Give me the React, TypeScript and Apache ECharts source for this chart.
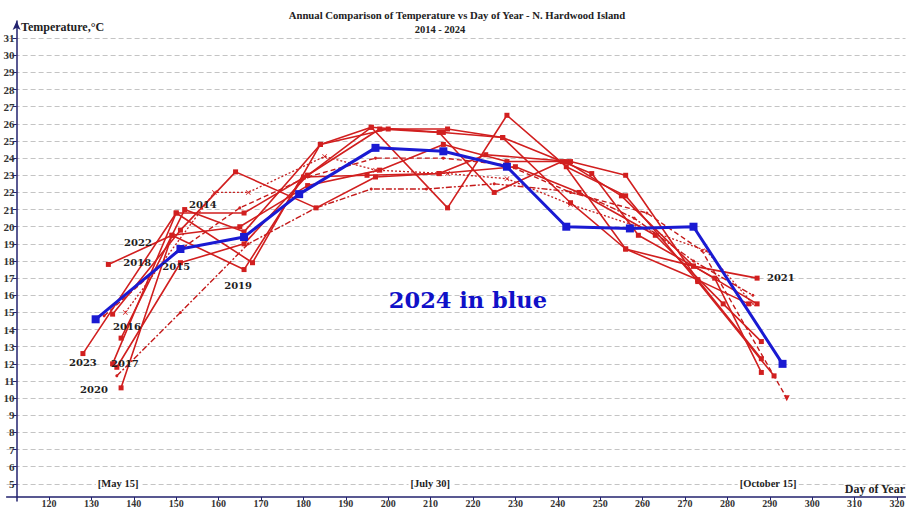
import React, { useEffect, useRef } from 'react';
import * as echarts from 'echarts';

// ---- data (day of year, temperature °C) ----
const s2014 = [[137, 13.5], [152, 21.0], [166, 19.7], [184, 24.8], [200, 25.7], [214, 25.7], [227, 25.2], [243, 21.4], [256, 18.7], [273, 16.9], [288, 12.3]];
const s2015 = [[136, 11.8], [151, 17.9], [166, 19.0], [181, 23.0], [196, 25.8], [214, 21.1], [228, 26.5], [242, 23.5], [256, 21.8], [273, 16.8], [291, 11.3]];
const s2016 = [[133, 14.8], [150, 18.5], [165, 21.1], [181, 22.9], [197, 24.0], [213, 24.0], [228, 23.6], [243, 22.0], [261, 20.8], [274, 18.6], [294, 10.0]];
const s2017 = [[136, 11.3], [151, 15.0], [167, 19.0], [183, 21.1], [196, 22.2], [209, 22.2], [225, 22.5], [245, 22.0], [258, 20.5], [272, 18.0], [286, 16.0]];
const s2018 = [[134, 17.8], [149, 19.5], [165, 20.0], [181, 22.4], [198, 23.3], [213, 24.8], [228, 23.8], [242, 23.8], [255, 21.8], [272, 17.7], [287, 15.5]];
const s2019 = [[138, 15.0], [159, 22.0], [167, 22.0], [185, 24.1], [197, 23.3], [214, 23.1], [228, 22.8], [243, 21.3], [259, 20.0], [275, 18.6], [286, 15.5]];
const s2020 = [[137, 10.6], [149, 19.5], [166, 17.5], [180, 22.9], [195, 23.0], [212, 23.1], [230, 23.5], [245, 22.0], [263, 19.5], [279, 15.5], [288, 13.3]];
const s2021 = [[135, 12.0], [150, 20.8], [166, 20.8], [181, 23.0], [198, 25.7], [212, 25.5], [225, 22.0], [241, 23.8], [256, 18.7], [272, 17.7], [287, 17.0]];
const s2022 = [[135, 14.9], [151, 19.8], [164, 23.2], [183, 21.1], [197, 22.9], [212, 23.1], [223, 24.2], [243, 23.8], [256, 23.0], [273, 16.9], [285, 15.5]];
const s2023 = [[128, 12.6], [150, 20.8], [168, 17.9], [184, 24.8], [196, 25.8], [213, 25.5], [227, 25.2], [248, 23.1], [259, 19.5], [277, 17.0], [288, 11.5]];
const s2024 = [[131, 14.6], [151, 18.7], [166, 19.4], [179, 21.9], [197, 24.6], [213, 24.4], [228, 23.5], [242, 20.0], [257, 19.9], [272, 20.0], [293, 12.0]];

const yearLabels = ['2014', '2022', '2018', '2015', '2019', '2016', '2023', '2017', '2020', '2021'];
const yearLabelPos = [[156.3, 21.3], [141.0, 19.1], [140.8, 17.9], [150.0, 17.7], [164.6, 16.6], [138.4, 14.2], [128.0, 12.1], [137.9, 12.05], [130.6, 10.5], [292.6, 17.05]];

const dateNotes = ['[May 15]', '[July 30]', '[October 15]'];
const dateNotePos = [[136.3, 5.0], [209.9, 5.0], [289.6, 5.05]];

const TITLE = 'Annual Comparison of Temperature vs Day of Year - N. Hardwood Island';
const SUBTITLE = '2014 - 2024';

const RED = '#d11f1f';
const BLUE = '#1a1ad2';
const AXIS = '#22226e';
const SERIF = '"Liberation Serif", "Times New Roman", serif';
const WIDE = '"DejaVu Serif", serif';
const XSYM = 'path://M0 1L1 0L5 4L9 0L10 1L6 5L10 9L9 10L5 6L1 10L0 9L4 5Z';

function redSeries(name: string, data: number[][], style: string) {
  const base: any = {
    name,
    type: 'line',
    data,
    z: 2,
    lineStyle: { color: RED, width: 1.6 },
    itemStyle: { color: RED },
    symbol: 'rect',
    symbolSize: 5,
  };
  if (style === 'dashed') {
    base.lineStyle = { color: '#c41a1a', width: 1.4, type: [5, 3] };
    base.symbol = 'circle';
    base.symbolSize = 3;
    base.data = data.map((d, i) =>
      i === data.length - 1 ? { value: d, symbol: 'triangle', symbolRotate: 180, symbolSize: 6 } : d
    );
  } else if (style === 'dashdot') {
    base.lineStyle = { color: '#c41a1a', width: 1.4, type: [6, 2, 2, 2] };
    base.symbol = 'circle';
    base.symbolSize = 3;
  } else if (style === 'dotted') {
    base.lineStyle = { color: '#c42020', width: 1.3, type: [2, 2] };
    base.symbol = XSYM;
    base.symbolSize = 5;
  }
  return base;
}

const plainLabel = {
  show: true,
  position: 'inside',
  formatter: '{b}',
  textBorderWidth: 0,
  textShadowBlur: 0,
  opacity: 1,
};

export default function App() {
  const ref = useRef<HTMLDivElement>(null);
  useEffect(() => {
    const chart = echarts.init(ref.current!, null, { renderer: 'svg' });
    const option: any = {
      animation: false,
      backgroundColor: '#ffffff',
      grid: { left: 6.6, right: 0.5, top: 21, bottom: 7, containLabel: false, outerBoundsMode: 'none' },
      graphic: [
        { type: 'text', x: 457, y: 15, style: { text: TITLE, font: `bold 10.7px ${SERIF}`, fill: '#222', align: 'center', verticalAlign: 'middle' } },
        { type: 'text', x: 440, y: 29, style: { text: SUBTITLE, font: `bold 10.5px ${SERIF}`, fill: '#222', align: 'center', verticalAlign: 'middle' } },
        { type: 'text', x: 21, y: 27, style: { text: 'Temperature,°C', font: `bold 12px ${SERIF}`, fill: '#222', align: 'left', verticalAlign: 'middle' } },
        { type: 'text', x: 905, y: 489, style: { text: 'Day of Year', font: `bold 12px ${SERIF}`, fill: '#222', align: 'right', verticalAlign: 'middle' } },
      ],
      xAxis: {
        type: 'value',
        min: 110,
        max: 322,
        interval: 10,
        offset: -4,
        axisLine: { show: true, onZero: false, lineStyle: { color: AXIS, width: 1.5 } },
        axisTick: { show: true, length: 3, lineStyle: { color: AXIS } },
        axisLabel: {
          margin: 1,
          color: '#333',
          fontFamily: SERIF,
          fontWeight: 'bold',
          fontSize: 10,
          lineHeight: 10,
          showMinLabel: false,
          showMaxLabel: false,
          formatter: (v: number) => (Math.abs(v % 10) < 1e-6 && v > 110 ? String(v) : ''),
        },
        splitLine: { show: false },
      },
      yAxis: {
        type: 'value',
        min: 4,
        max: 32,
        interval: 1,
        offset: -10,
        axisLine: {
          show: true,
          onZero: false,
          symbol: ['none', 'arrow'],
          symbolSize: [6, 9],
          lineStyle: { color: AXIS, width: 1.5 },
        },
        axisTick: { show: true, length: 4, lineStyle: { color: AXIS } },
        axisLabel: {
          margin: 2,
          color: '#333',
          fontFamily: SERIF,
          fontWeight: 'bold',
          fontSize: 11,
          showMinLabel: false,
          showMaxLabel: false,
          formatter: (v: number) => (v >= 5 && v <= 31 ? String(v) : ''),
        },
        splitLine: {
          show: true,
          showMinLine: false,
          showMaxLine: false,
          lineStyle: { color: '#c4c4c4', type: [5, 3], width: 1 },
        },
      },
      series: [
        redSeries('2014', s2014, 'solid'),
        redSeries('2015', s2015, 'solid'),
        redSeries('2016', s2016, 'dashed'),
        redSeries('2017', s2017, 'dashdot'),
        redSeries('2018', s2018, 'solid'),
        redSeries('2019', s2019, 'dotted'),
        redSeries('2020', s2020, 'solid'),
        redSeries('2021', s2021, 'solid'),
        redSeries('2022', s2022, 'solid'),
        redSeries('2023', s2023, 'solid'),
        {
          name: '2024',
          type: 'line',
          data: s2024,
          z: 5,
          symbol: 'rect',
          symbolSize: 8,
          lineStyle: { color: BLUE, width: 3 },
          itemStyle: { color: BLUE },
        },
        {
          name: 'yearLabels',
          type: 'scatter',
          z: 6,
          symbolSize: 0,
          silent: true,
          itemStyle: { opacity: 1 },
          data: yearLabels.map((n, i) => ({ name: n, value: yearLabelPos[i] })),
          label: {
            ...plainLabel,
            color: '#1e1e1e',
            fontFamily: WIDE,
            fontWeight: 'bold',
            fontSize: 10,
          },
        },
        {
          name: 'dateNotes',
          type: 'scatter',
          z: 6,
          symbolSize: 0,
          silent: true,
          itemStyle: { opacity: 1 },
          data: dateNotes.map((n, i) => ({ name: n, value: dateNotePos[i] })),
          label: {
            ...plainLabel,
            color: '#1e1e1e',
            fontFamily: SERIF,
            fontWeight: 'bold',
            fontSize: 10.5,
            backgroundColor: '#ffffff',
            padding: [0, 2],
          },
        },
        {
          name: 'note2024',
          type: 'scatter',
          z: 6,
          symbolSize: 0,
          silent: true,
          itemStyle: { opacity: 1 },
          data: [{ name: '2024 in blue', value: [218.8, 15.7] }],
          label: {
            ...plainLabel,
            color: '#1010c8',
            fontFamily: WIDE,
            fontWeight: 'bold',
            fontSize: 22.5,
          },
        },
      ],
    };
    chart.setOption(option);
    return () => chart.dispose();
  }, []);
  return (
    <div
      ref={ref}
      style={{ position: 'fixed', left: 0, top: 0, width: 906, height: 508, background: '#fff' }}
    />
  );
}
